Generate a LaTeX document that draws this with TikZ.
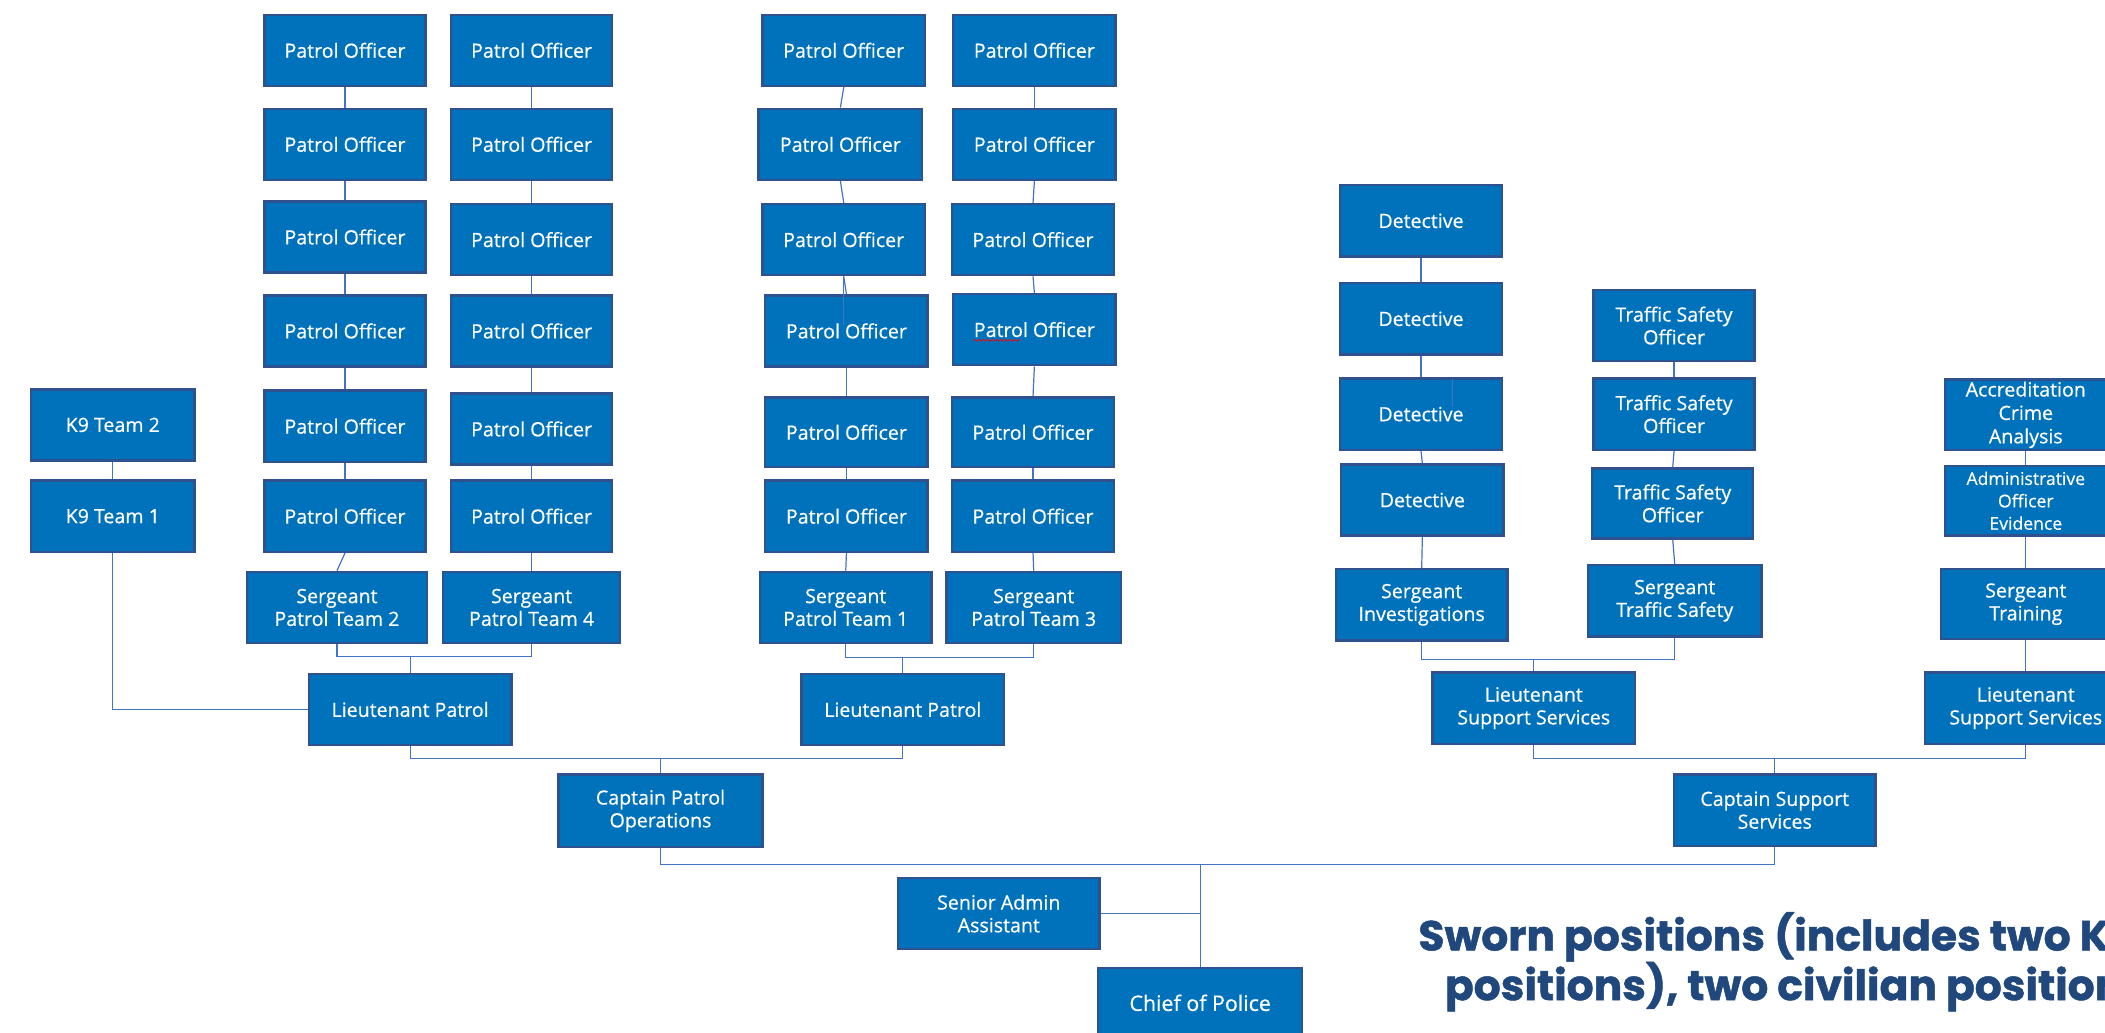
\documentclass[tikz,border=0pt]{standalone}
\usepackage{fontspec}
\usetikzlibrary{decorations.pathmorphing}
\newfontfamily\boxfont[FakeBold=0.5]{Open Sans}
\newfontfamily\swornfont[FakeStretch=1.01,FakeBold=1.2]{Poppins}
\definecolor{boxfill}{RGB}{0,114,187}
\definecolor{boxline}{RGB}{47,82,143}
\definecolor{connc}{RGB}{68,114,196}
\definecolor{swornc}{RGB}{33,72,124}
\tikzset{
  orgbox/.style={draw=boxline, fill=boxfill, line width=1.2pt, text=white, inner sep=1pt,
    align=center, font=\boxfont\fontsize{9.8}{11.4}\selectfont},
  conn/.style={draw=connc, line width=0.6pt},
  sworntext/.style={text=swornc, inner sep=0pt, anchor=base west,
    font=\swornfont\bfseries\fontsize{21}{24}\selectfont},
}
\newcommand\orgbx[7][]{%
  \pgfmathsetmacro\bxw{(#5-#3)*0.67125}%
  \pgfmathsetmacro\bxh{(#6-#4)*0.67125}%
  \node[orgbox, minimum width=\bxw pt, minimum height=\bxh pt, #1] (#2) at ({(#3+#5)/2},{(#4+#6)/2}) {#7};}
\begin{document}
\begin{tikzpicture}[x=0.67125pt, y=-0.67125pt]
\useasboundingbox (0,0) rectangle (1568,769);
\fill[white] (0,0) rectangle (1568,769);
\clip (0,0) rectangle (1568,769);
% column A
\orgbx{a1}{197}{11}{317}{64}{Patrol Officer}
\orgbx{a2}{197}{81}{317}{134}{Patrol Officer}
\orgbx{a3}{197}{150}{317}{203}{Patrol Officer}
\orgbx{a4}{197}{220}{317}{273}{Patrol Officer}
\orgbx{a5}{197}{291}{317}{344}{Patrol Officer}
\orgbx{a6}{197}{358}{317}{411}{Patrol Officer}
\orgbx{sA}{184}{426}{318}{479}{Sergeant\\Patrol Team 2}
% column B
\orgbx{b1}{336}{11}{456}{64}{Patrol Officer}
\orgbx{b2}{336}{81}{456}{134}{Patrol Officer}
\orgbx{b3}{336}{152}{456}{205}{Patrol Officer}
\orgbx{b4}{336}{220}{456}{273}{Patrol Officer}
\orgbx{b5}{336}{293}{456}{346}{Patrol Officer}
\orgbx{b6}{336}{358}{456}{411}{Patrol Officer}
\orgbx{sB}{330}{426}{462}{479}{Sergeant\\Patrol Team 4}
% column C
\orgbx{c1}{568}{11}{689}{64}{Patrol Officer}
\orgbx{c2}{565}{81}{687}{134}{Patrol Officer}
\orgbx{c3}{568}{152}{689}{205}{Patrol Officer}
\orgbx{c4}{570}{220}{691}{273}{Patrol Officer}
\orgbx{c5}{570}{296}{691}{348}{Patrol Officer}
\orgbx{c6}{570}{358}{691}{411}{Patrol Officer}
\orgbx{sC}{566}{426}{694}{479}{Sergeant\\Patrol Team 1}
% column D
\orgbx{d1}{710}{11}{831}{64}{Patrol Officer}
\orgbx{d2}{710}{81}{831}{134}{Patrol Officer}
\orgbx{d3}{709}{152}{830}{205}{Patrol Officer}
\orgbx{d4}{710}{219}{831}{272}{Patrol Officer}
\orgbx{d5}{709}{296}{830}{348}{Patrol Officer}
\orgbx{d6}{709}{358}{830}{411}{Patrol Officer}
\orgbx{sD}{705}{426}{835}{479}{Sergeant\\Patrol Team 3}
% K9
\orgbx{k2}{23}{290}{145}{343}{K9 Team 2}
\orgbx{k1}{23}{358}{145}{411}{K9 Team 1}
% lieutenants / captains / chief
\orgbx{ltA}{230}{502}{381}{555}{Lieutenant Patrol}
\orgbx{ltB}{597}{502}{748}{555}{Lieutenant Patrol}
\orgbx{cpo}{416}{577}{568}{631}{Captain Patrol\\Operations}
\orgbx{saa}{669}{654}{819}{707}{Senior Admin\\Assistant}
\orgbx[font=\boxfont\fontsize{10.7}{12}\selectfont]{chief}{818}{721}{970}{773}{Chief of Police}
% detectives
\orgbx{e1}{998}{138}{1119}{191}{Detective}
\orgbx{e2}{998}{211}{1119}{264}{Detective}
\orgbx{e3}{998}{282}{1119}{335}{Detective}
\orgbx{e4}{999}{346}{1120}{399}{Detective}
\orgbx{sInv}{995}{424}{1123}{477}{Sergeant\\Investigations}
% traffic
\orgbx{t1}{1187}{216}{1307}{269}{Traffic Safety\\Officer}
\orgbx{t2}{1187}{282}{1307}{335}{Traffic Safety\\Officer}
\orgbx{t3}{1186}{349}{1306}{401}{Traffic Safety\\Officer}
\orgbx{sTS}{1183}{421}{1312}{474}{Sergeant\\Traffic Safety}
\orgbx{ltS1}{1067}{501}{1218}{554}{Lieutenant\\Support Services}
\orgbx{cs}{1247}{577}{1397}{630}{Captain Support\\Services}
% right column
\orgbx[font=\boxfont\fontsize{9.8}{11.7}\selectfont]{r1}{1449}{283}{1569}{335}{Accreditation\\Crime\\Analysis}
\orgbx[font=\boxfont\fontsize{8.8}{11.2}\selectfont]{r2}{1449}{347}{1569}{399}{Administrative\\Officer\\Evidence}
\orgbx{r3}{1446}{424}{1572}{476}{Sergeant\\Training}
\orgbx{ltS2}{1434}{501}{1584}{554}{Lieutenant\\Support Services}
% vertical chains
\foreach \u/\v in {a1/a2,a2/a3,a3/a4,a4/a5,a5/a6,a6/sA,
                   b1/b2,b2/b3,b3/b4,b4/b5,b5/b6,b6/sB,
                   c1/c2,c2/c3,c3/c4,c4/c5,c5/c6,c6/sC,
                   d1/d2,d2/d3,d3/d4,d4/d5,d5/d6,d6/sD,
                   k2/k1,e1/e2,e2/e3,e3/e4,e4/sInv,
                   t1/t2,t2/t3,t3/sTS,r1/r2,r2/r3,r3/ltS2}
  \draw[conn] (\u.south) -- (\v.north);
% junctions
\coordinate (jA) at (ltA.north |- 0,489);
\coordinate (jB) at (cpo.north |- 0,565);
\coordinate (jC) at (ltB.north |- 0,490);
\coordinate (jD) at (ltS1.north |- 0,491);
\coordinate (jE) at (cs.north |- 0,565);
\coordinate (jF) at (chief.north |- 0,644);
\coordinate (jG) at (saa.east -| chief.north);
\draw[conn] (sA.south) |- (jA) -| (sB.south);
\draw[conn] (jA) -- (ltA.north);
\draw[conn] (sC.south) |- (jC) -| (sD.south);
\draw[conn] (jC) -- (ltB.north);
\draw[conn] (k1.south) |- (ltA.west);
\draw[conn] (ltA.south) |- (jB) -| (ltB.south);
\draw[conn] (jB) -- (cpo.north);
\draw[conn] (sInv.south) |- (jD) -| (sTS.south);
\draw[conn] (jD) -- (ltS1.north);
\draw[conn] (ltS1.south) |- (jE) -| (ltS2.south);
\draw[conn] (jE) -- (cs.north);
\draw[conn] (cpo.south) |- (jF) -| (cs.south);
\draw[conn] (jF) -- (chief.north);
\draw[conn] (saa.east) -- (jG);
% small overdrawn line pieces visible in the original
\draw[conn] (c3.south) -- (c3.south |- 0,242);
\draw[conn] (1082,282) -- (1082,303);
\draw[red, line width=0.35pt, decorate, decoration={snake, amplitude=0.45pt, segment length=2.2pt}] (725,253.5) -- (760,253.5);
% caption
\node[sworntext] (sw1) at (1056.3,708) {Sworn positions (includes two K9};
\node[sworntext] (sw2) at (1076,745) {positions), two civilian positions};
\end{tikzpicture}
\end{document}
